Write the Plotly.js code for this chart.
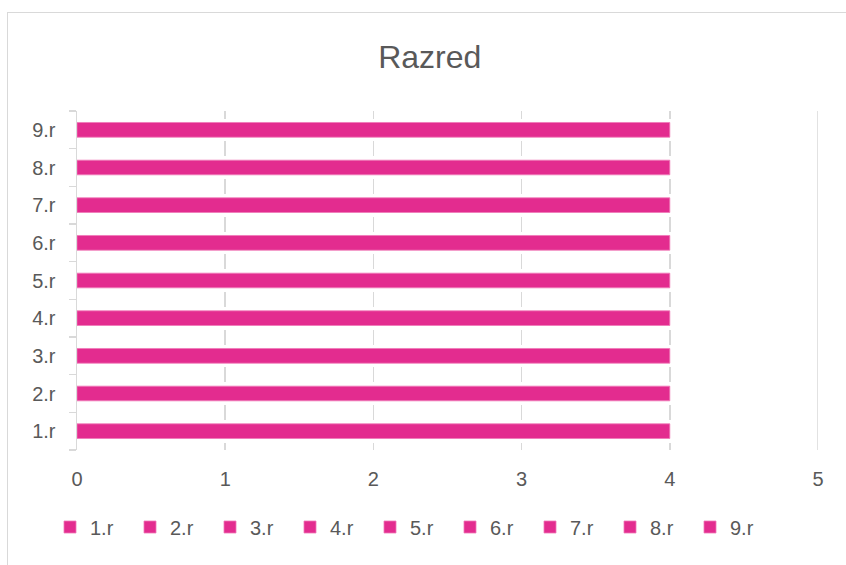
<!DOCTYPE html>
<html>
<head>
<meta charset="utf-8">
<script src="https://cdn.plot.ly/plotly-3.0.1.min.js"></script>
<style>
  html, body { margin: 0; padding: 0; background: #ffffff; }
  #frame { position: absolute; left: 7px; top: 12px; width: 900px; height: 600px;
           border-left: 1.5px solid #d9d9d9; border-top: 1.5px solid #d9d9d9; pointer-events: none; }
  #chart { position: absolute; left: 0; top: 0; width: 846px; height: 565px; }
</style>
</head>
<body>
<div id="frame"></div>
<div id="chart"></div>
<script>
// ---- data ----
var categories = ['1.r', '2.r', '3.r', '4.r', '5.r', '6.r', '7.r', '8.r', '9.r'];
var values = [4, 4, 4, 4, 4, 4, 4, 4, 4];
var xTickVals = [0, 1, 2, 3, 4, 5];
var chartTitle = 'Razred';

var pink = '#E32C8F';
var textColor = '#595959';
var gridColor = '#d9d9d9';
var fontFamily = '"Liberation Sans", Arial, sans-serif';

var traces = categories.map(function (c, i) {
  return {
    type: 'bar',
    orientation: 'h',
    name: c,
    y: [c],
    x: [values[i]],
    width: 0.39,
    marker: { color: pink, line: { color: '#F07AB8', width: 0.8 } },
    hoverinfo: 'x+y'
  };
});

var gridDash = '7.5px,22.7px,15px,22.7px,15px,22.7px,15px,22.7px,15px,22.7px,15px,22.7px,15px,22.7px,15px,22.7px,15px,22.7px,7.5px';

var layout = {
  width: 846,
  height: 565,
  paper_bgcolor: 'rgba(0,0,0,0)',
  plot_bgcolor: 'rgba(0,0,0,0)',
  margin: { l: 77, r: 28, t: 111, b: 115, pad: 0 },
  barmode: 'overlay',
  font: { family: fontFamily, color: textColor, size: 20 },
  title: {
    text: chartTitle,
    font: { family: fontFamily, size: 32, color: textColor },
    xref: 'container', x: 0.508, xanchor: 'center',
    yref: 'container', y: 1 - 57 / 565, yanchor: 'middle'
  },
  xaxis: {
    range: [0, 5],
    tickvals: xTickVals,
    ticktext: xTickVals.map(String),
    showgrid: true,
    gridcolor: gridColor,
    gridwidth: 1.5,
    griddash: gridDash,
    zeroline: false,
    showline: false,
    ticks: '',
    ticklabelstandoff: 15,
    tickfont: { size: 20, color: textColor, family: fontFamily },
    fixedrange: true
  },
  yaxis: {
    type: 'category',
    categoryorder: 'array',
    categoryarray: categories,
    range: [-0.5, categories.length - 0.5],
    showgrid: false,
    zeroline: false,
    showline: true,
    linecolor: gridColor,
    linewidth: 1.5,
    ticks: 'outside',
    tickson: 'boundaries',
    ticklen: 7,
    tickwidth: 1.5,
    tickcolor: gridColor,
    ticklabelstandoff: 16,
    tickfont: { size: 20, color: textColor, family: fontFamily },
    fixedrange: true
  },
  shapes: [{
    type: 'line', xref: 'x', yref: 'paper',
    x0: 5, x1: 5, y0: 0, y1: 1,
    line: { color: gridColor, width: 1.5 },
    layer: 'below'
  }],
  showlegend: true,
  legend: {
    orientation: 'h',
    traceorder: 'normal',
    xref: 'container', x: 50 / 846, xanchor: 'left',
    yref: 'container', y: 1 - 527 / 565, yanchor: 'middle',
    entrywidth: 35,
    entrywidthmode: 'pixels',
    font: { size: 20, color: textColor, family: fontFamily },
    bgcolor: 'rgba(0,0,0,0)'
  }
};

Plotly.newPlot('chart', traces, layout, { displayModeBar: false, staticPlot: true });
</script>
</body>
</html>
